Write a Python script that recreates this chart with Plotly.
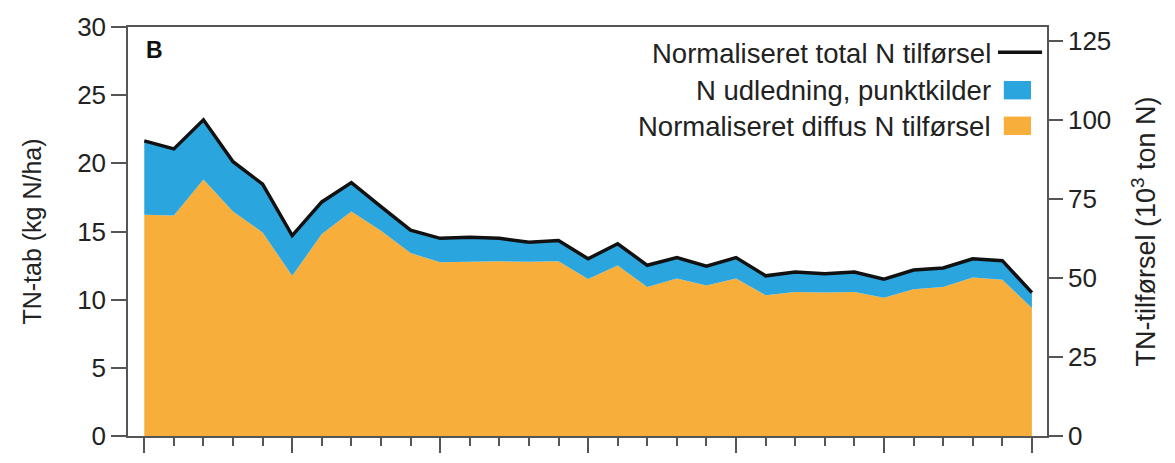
import plotly.graph_objects as go

# Annual series, 1990-2020
years = list(range(1990, 2021))
total_n = [21.65, 21.06, 23.19, 20.12, 18.47, 14.70, 17.17, 18.59, 16.82, 15.10,
           14.50, 14.58, 14.50, 14.22, 14.34, 13.00, 14.10, 12.52, 13.09, 12.45,
           13.09, 11.75, 12.03, 11.91, 12.03, 11.51, 12.17, 12.33, 13.00, 12.86,
           10.52]
diffuse_n = [16.22, 16.18, 18.82, 16.46, 14.93, 11.75, 14.81, 16.46, 15.05, 13.42,
             12.74, 12.78, 12.81, 12.78, 12.81, 11.51, 12.50, 10.92, 11.56, 11.04,
             11.56, 10.33, 10.57, 10.52, 10.57, 10.14, 10.76, 10.92, 11.63, 11.46,
             9.39]

left_ticks = [0, 5, 10, 15, 20, 25, 30]
right_ticks = [0, 25, 50, 75, 100, 125]
major_years = [1990, 1995, 2000, 2005, 2010, 2015, 2020]

label_total = "Normaliseret total N tilførsel"
label_point = "N udledning, punktkilder"
label_diffuse = "Normaliseret diffus N tilførsel"

ORANGE = "#F8AE3A"
BLUE = "#2BA5DE"
BLACK = "#111111"
AXIS = "#555555"
FONT = "Liberation Sans, Arial, sans-serif"

fig = go.Figure()

# Diffuse contribution, filled down to zero
fig.add_trace(go.Scatter(x=years, y=diffuse_n, mode="lines", line=dict(width=0, color=ORANGE),
                         fill="tozeroy", fillcolor=ORANGE, name=label_diffuse,
                         showlegend=False, hoverinfo="skip"))
# Point sources: band between diffuse and total
fig.add_trace(go.Scatter(x=years, y=total_n, mode="lines", line=dict(width=0, color=BLUE),
                         fill="tonexty", fillcolor=BLUE, name=label_point,
                         showlegend=False, hoverinfo="skip"))
# Total input line
fig.add_trace(go.Scatter(x=years, y=total_n, mode="lines", line=dict(width=3.5, color=BLACK),
                         name=label_total, showlegend=False))
# Carrier for the secondary axis
fig.add_trace(go.Scatter(x=[years[0]], y=[None], yaxis="y2", mode="lines",
                         showlegend=False, hoverinfo="skip"))

tick_font = dict(family=FONT, size=26, color="#222222")

fig.update_layout(
    width=1175, height=463,
    margin=dict(l=128, r=128, t=22, b=17),
    paper_bgcolor="white", plot_bgcolor="white",
    font=dict(family=FONT, color="#222222"),
    xaxis=dict(range=[1989.45, 2020.51], showgrid=False, zeroline=False,
               showline=True, linecolor=AXIS, linewidth=1.5, mirror=True,
               tickmode="array", tickvals=major_years, showticklabels=False,
               ticks="outside", ticklen=15, tickwidth=1.5, tickcolor=AXIS,
               minor=dict(dtick=1, tick0=1990, ticks="outside", ticklen=8,
                          tickwidth=1.5, tickcolor=AXIS)),
    yaxis=dict(range=[0, 30], showgrid=False, zeroline=False,
               showline=True, linecolor=AXIS, linewidth=1.5,
               tickmode="array", tickvals=left_ticks, ticks="outside",
               ticklen=15, tickwidth=1.5, tickcolor=AXIS, tickfont=tick_font,
               title=dict(text="TN-tab (kg N/ha)", font=dict(family=FONT, size=25),
                          standoff=28)),
    yaxis2=dict(range=[0, 129.27], overlaying="y", side="right", anchor="x",
                showgrid=False, zeroline=False,
                showline=True, linecolor=AXIS, linewidth=1.5,
                tickmode="array", tickvals=right_ticks, ticks="outside",
                ticklen=14, tickwidth=1.5, tickcolor=AXIS, tickfont=tick_font,
                title=dict(text="TN-tilførsel (10<sup>3</sup> ton N)",
                           font=dict(family=FONT, size=27), standoff=26)),
    showlegend=False,
)

# Panel letter
fig.add_annotation(x=0.017, y=0.943, xref="paper", yref="paper", text="<b>B</b>",
                   showarrow=False, xanchor="left", yanchor="middle",
                   font=dict(family=FONT, size=23, color="#111111"))

# Legend: right-aligned labels with keys on the right
legend_font = dict(family=FONT, size=27.5, color="#222222")
legend_rows = [(label_total, 0.934), (label_point, 0.845), (label_diffuse, 0.757)]
for text, ypos in legend_rows:
    fig.add_annotation(x=0.9412, y=ypos, xref="paper", yref="paper", text=text,
                       showarrow=False, xanchor="right", yanchor="middle",
                       font=legend_font)

fig.add_shape(type="line", xref="paper", yref="paper", x0=0.9467, x1=0.9946,
              y0=0.938, y1=0.938, line=dict(color=BLACK, width=3.5))
fig.add_shape(type="rect", xref="paper", yref="paper", x0=0.953, x1=0.9826,
              y0=0.823, y1=0.868, line=dict(width=0), fillcolor=BLUE)
fig.add_shape(type="rect", xref="paper", yref="paper", x0=0.953, x1=0.9826,
              y0=0.736, y1=0.781, line=dict(width=0), fillcolor=ORANGE)

fig.write_html("out.html")
